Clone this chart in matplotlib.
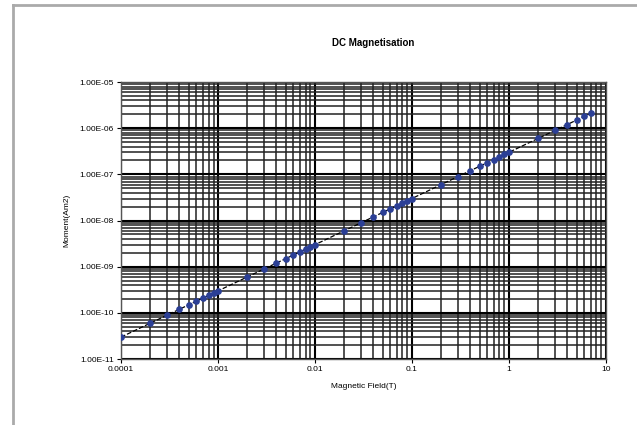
import numpy as np
import matplotlib
matplotlib.use("Agg")
import matplotlib.pyplot as plt
from matplotlib.lines import Line2D
from matplotlib.ticker import FixedLocator, FuncFormatter, NullFormatter

plt.rcParams["font.family"] = ["Liberation Sans", "DejaVu Sans"]

# field (T) and moment (Am2)
field = [0.0001, 0.0002, 0.0003, 0.0004, 0.0005, 0.0006, 0.0007, 0.0008, 0.0009,
         0.001, 0.002, 0.003, 0.004, 0.005, 0.006, 0.007, 0.008, 0.009,
         0.01, 0.02, 0.03, 0.04, 0.05, 0.06, 0.07, 0.08, 0.09,
         0.1, 0.2, 0.3, 0.4, 0.5, 0.6, 0.7, 0.8, 0.9,
         1, 2, 3, 4, 5, 6, 7]
moment = [3.0e-11, 6.0e-11, 9.0e-11, 1.2e-10, 1.5e-10, 1.8e-10, 2.1e-10, 2.4e-10, 2.7e-10,
          3.0e-10, 6.0e-10, 9.0e-10, 1.2e-9, 1.5e-9, 1.8e-9, 2.1e-9, 2.4e-9, 2.7e-9,
          3.0e-9, 6.0e-9, 9.0e-9, 1.2e-8, 1.5e-8, 1.8e-8, 2.1e-8, 2.4e-8, 2.7e-8,
          3.0e-8, 6.0e-8, 9.0e-8, 1.2e-7, 1.5e-7, 1.8e-7, 2.1e-7, 2.4e-7, 2.7e-7,
          3.0e-7, 6.0e-7, 9.0e-7, 1.2e-6, 1.5e-6, 1.8e-6, 2.1e-6]

x_ticks = [0.0001, 0.001, 0.01, 0.1, 1, 10]
x_labels = ["0.0001", "0.001", "0.01", "0.1", "1", "10"]
y_ticks = [1e-11, 1e-10, 1e-9, 1e-8, 1e-7, 1e-6, 1e-5]

fig = plt.figure(figsize=(6.37, 4.25), dpi=100)
ax = fig.add_axes([0.190, 0.155, 0.761, 0.652])

ax.set_xscale("log")
ax.set_yscale("log")
ax.set_xlim(1e-4, 10)
ax.set_ylim(1e-11, 1e-5)

ax.xaxis.set_major_locator(FixedLocator(x_ticks))
ax.set_xticklabels(x_labels)
ax.yaxis.set_major_locator(FixedLocator(y_ticks))
ax.yaxis.set_major_formatter(FuncFormatter(lambda v, p: "%.2E" % v))
minors_x = [m * 10.0 ** e for e in range(-4, 1) for m in range(2, 10)]
minors_y = [m * 10.0 ** e for e in range(-11, -5) for m in range(2, 10)]
ax.xaxis.set_minor_locator(FixedLocator(minors_x))
ax.yaxis.set_minor_locator(FixedLocator(minors_y))
ax.xaxis.set_minor_formatter(NullFormatter())
ax.yaxis.set_minor_formatter(NullFormatter())

ax.grid(True, which="major", color="black", linewidth=1.5)
ax.grid(True, which="minor", color="#222222", linewidth=1.1)
ax.set_axisbelow(True)

ax.tick_params(which="major", labelsize=6, length=3, width=0.8, pad=2)
ax.tick_params(which="minor", length=0)
for s in ax.spines.values():
    s.set_color("#555555")
    s.set_linewidth(1)

ax.plot(field, moment, color="black", linewidth=0.9, linestyle="--", zorder=3)
ax.plot(field, moment, color="#2b3f96", linestyle="none", marker="o",
        markersize=3.8, zorder=4)

ax.set_title("DC Magnetisation", fontsize=7, fontweight="bold", pad=26, x=0.52)
ax.set_xlabel("Magnetic Field(T)", fontsize=6, labelpad=7)
ax.set_ylabel("Moment(Am2)", fontsize=6, labelpad=7)

# grey frame of the chart area
fig.add_artist(Line2D([13 / 637, 1], [1 - 5 / 425, 1 - 5 / 425],
                      transform=fig.transFigure, color="#aaaaaa", linewidth=2))
fig.add_artist(Line2D([13 / 637, 13 / 637], [0, 1 - 5 / 425],
                      transform=fig.transFigure, color="#aaaaaa", linewidth=2))

fig.savefig("out.png", dpi=100)
